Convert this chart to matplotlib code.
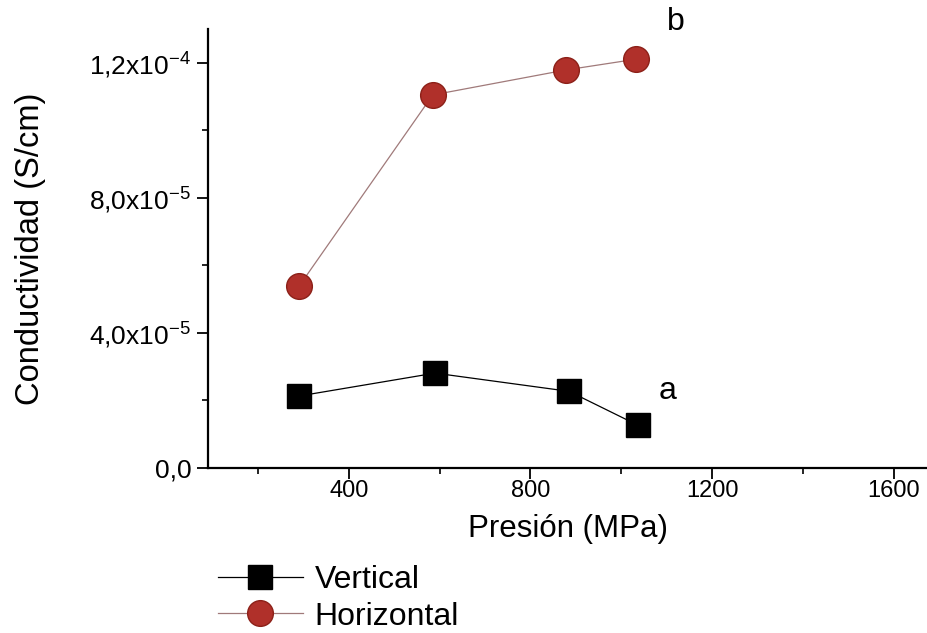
import numpy as np
import matplotlib
matplotlib.use('Agg')
import matplotlib.pyplot as plt
from matplotlib.ticker import MultipleLocator, FixedLocator

plt.rcParams['font.family'] = ['Liberation Sans', 'DejaVu Sans']
plt.rcParams['mathtext.fontset'] = 'custom'
plt.rcParams['mathtext.rm'] = 'Liberation Sans'
plt.rcParams['mathtext.it'] = 'Liberation Sans'

# presion (MPa) y conductividad (S/cm)
presion_v = [290, 590, 885, 1036]
cond_v = [2.13e-5, 2.81e-5, 2.27e-5, 1.27e-5]
presion_h = [291, 585, 878, 1033]
cond_h = [5.39e-5, 11.05e-5, 11.79e-5, 12.11e-5]

yticks = [0, 4e-5, 8e-5, 1.2e-4]
ytick_labels = ['0,0', r'4,0x10$^{-5}$', r'8,0x10$^{-5}$', r'1,2x10$^{-4}$']
xticks = [400, 800, 1200, 1600]

fig = plt.figure(figsize=(9.28, 6.33), dpi=100)
ax = fig.add_axes([0.224, 0.2607, 0.776, 0.6933])

lv, = ax.plot(presion_v, cond_v, color='black', lw=0.9, marker='s', ms=17,
              mfc='black', mec='black', label='Vertical')
lh, = ax.plot(presion_h, cond_h, color='#a07a7a', lw=0.9, marker='o', ms=18.5,
              mfc='#b0302a', mec='#8c2018', mew=1, label='Horizontal')

ax.set_xlim(90, 1675)
ax.set_ylim(0, 1.3e-4)

ax.xaxis.set_major_locator(FixedLocator(xticks))
ax.xaxis.set_minor_locator(MultipleLocator(200))
ax.set_yticks(yticks)
ax.set_yticklabels(ytick_labels)
ax.yaxis.set_minor_locator(MultipleLocator(2e-5))

ax.tick_params(which='major', direction='out', length=8, width=1.3)
ax.tick_params(which='minor', direction='out', length=4.5, width=1.2)
ax.tick_params(axis='y', labelsize=19, pad=4)
ax.tick_params(axis='x', labelsize=17, pad=1)

for s in ['top', 'right']:
    ax.spines[s].set_visible(False)
for s in ['left', 'bottom']:
    ax.spines[s].set_linewidth(1.6)

ax.set_xlabel('Presión (MPa)', fontsize=22.5, labelpad=8)
ax.set_ylabel('Conductividad (S/cm)', fontsize=23.5, labelpad=31)

ax.text(1101, 2.28e-5, 'a', fontsize=23, ha='center', va='center')
ax.text(1121, 1.32e-4, 'b', fontsize=23, ha='center', va='center', clip_on=False)

fig.legend(handles=[lv, lh], loc='upper left', bbox_to_anchor=(0.235, 0.107),
           frameon=False, fontsize=23, handlelength=2.65, handletextpad=0.38,
           labelspacing=0.2, borderaxespad=0, borderpad=0)

fig.savefig('out.png', dpi=100)
